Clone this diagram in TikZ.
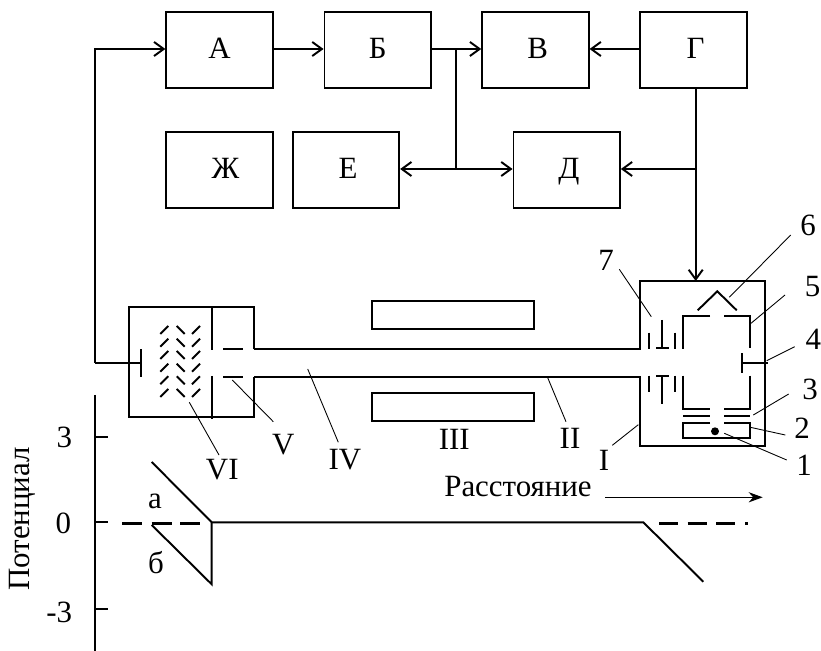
\documentclass[tikz,border=0pt]{standalone}
\usepackage{fontspec}
\setmainfont{Liberation Serif}
\usetikzlibrary{arrows.meta}
\tikzset{
	blockbox/.style={draw, line width=1.1pt, minimum width=2.128cm, minimum height=1.53cm, inner sep=0pt, text height=11.6pt, text depth=1.4pt},
	line/.style={line width=1.1pt},
	flow/.style={line width=1.1pt, -{Straight Barb[length=5.5pt,width=8pt,line width=1.1pt]}},
	leader/.style={line width=0.5pt},
	lab/.style={inner sep=0pt, font=\fontsize{17.6}{20}\selectfont}
}
\begin{document}
\begin{tikzpicture}[x=0.02cm, y=-0.02cm]
	\useasboundingbox (0,0) rectangle (821,651);
	\node[blockbox, lab] (A) at (219.5,49.8) {А};
	\node[blockbox, lab] (B) at (377.7,49.8) {Б\hspace{5pt}};
	\node[blockbox, lab] (V) at (535.4,49.8) {\hspace{2.6pt}В};
	\node[blockbox, lab] (G) at (693.5,49.8) {\hspace{2.3pt}Г};
	\node[blockbox, lab] (Zh) at (219.5,170) {\hspace{6.8pt}Ж};
	\node[blockbox, lab] (E) at (346,170) {\hspace{2.3pt}Е};
	\node[blockbox, lab] (D) at (566.7,170) {\hspace{2.6pt}Д};
	\coordinate (split) at (455.7,49);
	\coordinate (splitlow) at (455.7,169);
	\coordinate (drop) at (695.7,169);
	\coordinate (feed) at (95,363);
	\draw[flow] (A.east |- 0,49) -- (B.west |- 0,49);
	\draw[flow] (B.east |- 0,49) -- (V.west |- 0,49);
	\draw[flow] (G.west |- 0,49) -- (V.east |- 0,49);
	\draw[line] (split) -- (splitlow);
	\draw[flow] (splitlow) -- (E.east |- splitlow);
	\draw[flow] (splitlow) -- (D.west |- splitlow);
	\draw[flow] (drop) -- (D.east |- drop);
	\draw[flow] (drop |- G.south) -- (695.7,281);
	\draw[flow] (feed) -- (95,49) -- (A.west |- 0,49);
	\draw[line] (feed) -- (141.3,363);
	\draw[line] (141.3,349.3) -- (141.3,377.3);

	\draw[line] (254,349.3) -- (254,307.3) -- (129.3,307.3) -- (129.3,417.3) -- (254,417.3) -- (254,377.3);
	\draw[line] (254,349.3) -- (640.3,349.3) -- (640.3,281.3) -- (765.3,281.3) -- (765.3,445.7) -- (640.3,445.7) -- (640.3,377.3) -- (254,377.3);
	\draw[line] (211.7,307.3) -- (211.7,350);
	\draw[line] (211.7,376) -- (211.7,419);
	\draw[line] (223,349.3) -- (243.3,349.3);
	\draw[line] (223,377.3) -- (243.3,377.3);
	\foreach \y in {330,342.7,355,367.7,380.3,393} {
		\draw[line] (160.3,\y+4) -- (168.3,\y-4);
		\draw[line] (176.7,\y-4) -- (184.7,\y+4);
		\draw[line] (192,\y+4) -- (200,\y-4);
	}
	\draw[line] (372,300.7) rectangle (534.3,328.7);
	\draw[line] (372,393) rectangle (534.3,421.3);

	\draw[line] (648.7,332.7) -- (648.7,349);
	\draw[line] (675,332.7) -- (675,349);
	\draw[line] (661.7,320) -- (661.7,348.3);
	\draw[line] (656,348.3) -- (668.7,348.3);
	\draw[line] (648.7,375.7) -- (648.7,392.3);
	\draw[line] (675,375.7) -- (675,392.3);
	\draw[line] (661.7,376) -- (661.7,404.3);
	\draw[line] (656,376) -- (668.7,376);
	\draw[line] (710,315.7) -- (683.3,315.7) -- (683.3,349);
	\draw[line] (724,315.7) -- (750.3,315.7) -- (750.3,348);
	\draw[line] (683.3,375.7) -- (683.3,408.7) -- (710,408.7);
	\draw[line] (750.3,375.7) -- (750.3,408.7) -- (724,408.7);
	\draw[line] (683.3,416) -- (710,416);
	\draw[line] (724,416) -- (750.3,416);
	\draw[line] (710,423.3) -- (683.3,423.3) -- (683.3,437.7) -- (750.3,437.7) -- (750.3,423.3) -- (724,423.3);
	\fill (715,431.3) circle (4);
	\draw[line] (697.7,310.3) -- (717.3,291.3) -- (736.7,310.3);
	\draw[line] (741.7,353.3) -- (741.7,372.7);
	\draw[line] (741.7,363.3) -- (768.3,363.3);

	\node[lab] (n1) at (804,465) {1};
	\node[lab] (n2) at (802,428.7) {2};
	\node[lab] (n3) at (810,389.3) {3};
	\node[lab] (n4) at (813.3,339) {4};
	\node[lab] (n5) at (812.7,287) {5};
	\node[lab] (n6) at (808,225) {6};
	\node[lab] (n7) at (606,260.7) {7};
	\node[lab] (r1) at (604,460) {I};
	\node[lab] (r2) at (570,438.3) {II};
	\node[lab] (r3) at (454.3,439.3) {III};
	\node[lab] (r4) at (345,460) {IV};
	\node[lab] (r5) at (283.3,445) {V};
	\node[lab] (r6) at (222.3,470) {VI};
	\draw[leader] (786.7,460) -- (724.3,433.3);
	\draw[leader] (785.3,435) -- (750.3,427.3);
	\draw[leader] (788.7,394) -- (753.3,415);
	\draw[leader] (794.7,346.7) -- (766.7,360.7);
	\draw[leader] (785,295) -- (751,323.3);
	\draw[leader] (790.7,235) -- (729.3,297.3);
	\draw[leader] (619.3,269.3) -- (651.3,316.7);
	\draw[leader] (612.3,445.3) -- (638.3,424.7);
	\draw[leader] (566,421.7) -- (547.7,377.7);
	\draw[leader] (338.3,442.3) -- (307.7,369);
	\draw[leader] (273.3,421.7) -- (232.3,380);
	\draw[leader] (219,455) -- (189.3,402.3);

	\draw[line] (95,395) -- (95,651);
	\draw[line] (95,437) -- (108,437);
	\draw[line] (95,522.3) -- (108,522.3);
	\draw[line] (95,608.7) -- (108,608.7);
	\node[lab] (t3) at (64.3,437.7) {3};
	\node[lab] (t0) at (63.3,523.3) {0};
	\node[lab] (tm3) at (59.3,612) {-3};
	\node[lab, rotate=90] (pot) at (22,519) {Потенциал};
	\node[lab] (dist) at (518,487) {Расстояние};
	\draw[line width=0.6pt, -{Stealth[length=8pt,width=5.8pt]}] (605,497.3) -- (762.7,497.3);
	\draw[line] (151.7,462) -- (211.7,522.3) -- (643.3,522.3) -- (703.3,581.7);
	\draw[line] (151.7,525) -- (211.7,584.3) -- (211.7,522.3);
	\draw[line width=1.6pt] (122.3,523.3) -- (142.3,523.3);
	\draw[line width=1.6pt] (151.7,523.3) -- (171.7,523.3);
	\draw[line width=1.6pt] (180,523.3) -- (200,523.3);
	\draw[line width=1.6pt] (659.3,523.3) -- (678.3,523.3);
	\draw[line width=1.6pt] (687.7,523.3) -- (706.7,523.3);
	\draw[line width=1.6pt] (716,523.3) -- (735,523.3);
	\draw[line width=1.6pt] (745,523.3) -- (748,523.3);
	\node[lab] (a) at (155,501.7) {а};
	\node[lab] (b) at (156,562.7) {б};
\end{tikzpicture}
\end{document}
